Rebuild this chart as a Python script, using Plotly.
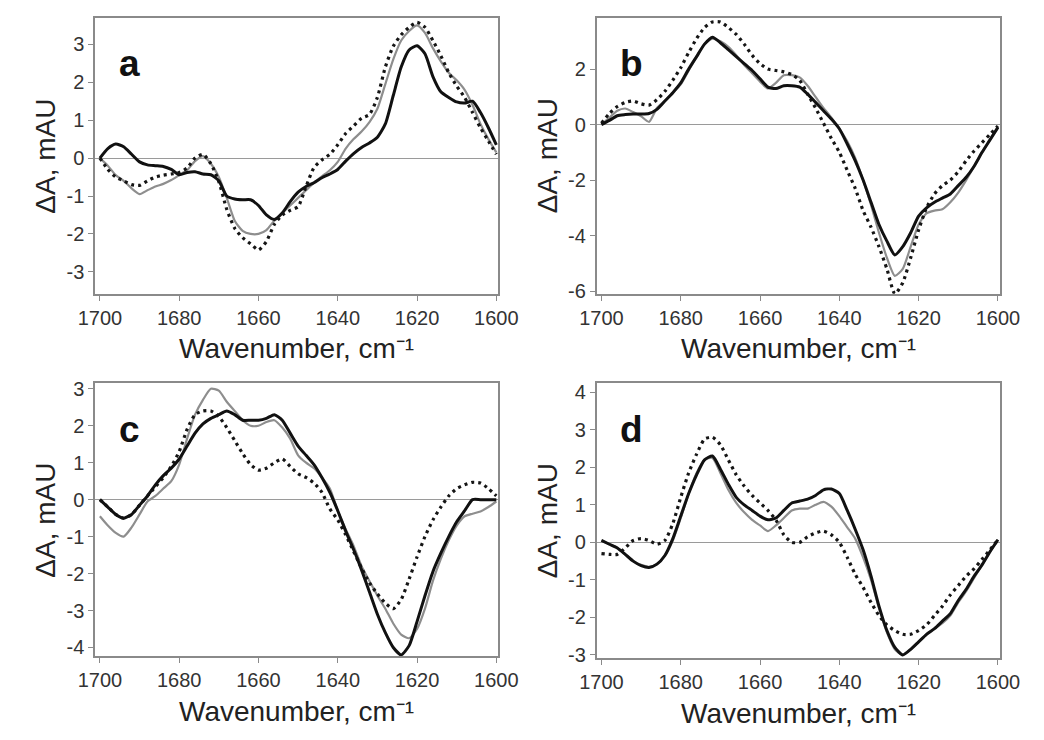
import plotly.graph_objects as go

# Wavenumber grid (cm^-1), shared by all series
WAVENUMBER = [1700, 1698, 1696, 1694, 1692, 1690, 1688, 1686, 1684, 1682,
              1680, 1678, 1676, 1674, 1672, 1670, 1668, 1666, 1664, 1662,
              1660, 1658, 1656, 1654, 1652, 1650, 1648, 1646, 1644, 1642,
              1640, 1638, 1636, 1634, 1632, 1630, 1628, 1626, 1624, 1622,
              1620, 1618, 1616, 1614, 1612, 1610, 1608, 1606, 1604, 1602, 1600]

# Panel a
A_BLACK = [0.0, 0.25, 0.37, 0.3, 0.1, -0.1, -0.18, -0.2, -0.22, -0.3,
           -0.44, -0.38, -0.36, -0.42, -0.44, -0.6, -1.0, -1.08, -1.1, -1.1,
           -1.25, -1.5, -1.62, -1.45, -1.15, -0.9, -0.75, -0.65, -0.52, -0.42,
           -0.3, -0.08, 0.12, 0.28, 0.4, 0.55, 0.9, 1.65, 2.4, 2.85,
           2.96, 2.75, 2.15, 1.75, 1.6, 1.48, 1.45, 1.5, 1.2, 0.8, 0.35]
A_GRAY = [0.0, -0.2, -0.45, -0.6, -0.8, -0.95, -0.85, -0.75, -0.68, -0.58,
          -0.45, -0.32, -0.08, 0.05, -0.15, -0.5, -1.05, -1.65, -1.92, -2.0,
          -2.0, -1.9, -1.65, -1.45, -1.25, -1.05, -0.85, -0.65, -0.48, -0.32,
          -0.1, 0.25, 0.5, 0.7, 0.95, 1.3, 1.95, 2.6, 3.1, 3.35,
          3.5, 3.3, 2.9, 2.55, 2.25, 2.05, 1.8, 1.4, 0.9, 0.5, 0.15]
A_DOT = [0.0, -0.3, -0.5, -0.6, -0.7, -0.72, -0.6, -0.5, -0.45, -0.42,
         -0.38, -0.26, 0.0, 0.1, -0.15, -0.62, -1.35, -1.85, -2.1, -2.26,
         -2.42, -2.2, -1.75, -1.5, -1.38, -1.28, -0.75, -0.25, -0.05, 0.1,
         0.35, 0.65, 0.85, 1.05, 1.15, 1.6, 2.4, 2.95, 3.25, 3.45,
         3.58, 3.45, 3.1, 2.7, 2.25, 1.9, 1.6, 1.2, 0.8, 0.45, 0.1]

# Panel b
B_BLACK = [0.0, 0.15, 0.32, 0.36, 0.38, 0.38, 0.4, 0.55, 0.85, 1.15,
           1.5, 2.0, 2.45, 2.9, 3.15, 2.95, 2.7, 2.45, 2.2, 1.95,
           1.65, 1.35, 1.3, 1.4, 1.4, 1.35, 1.1, 0.8, 0.5, 0.2,
           -0.15, -0.7, -1.3, -2.0, -2.8, -3.6, -4.2, -4.7, -4.4, -3.9,
           -3.3, -3.0, -2.8, -2.65, -2.5, -2.2, -1.9, -1.5, -1.0, -0.55, -0.1]
B_GRAY = [0.0, 0.25, 0.5, 0.58, 0.45, 0.3, 0.1, 0.6, 0.85, 1.15,
          1.45, 1.95, 2.45, 2.9, 3.1, 3.0, 2.8, 2.5, 2.15, 1.85,
          1.55, 1.3, 1.5, 1.78, 1.78, 1.7, 1.4, 1.0, 0.6, 0.25,
          -0.15, -0.6, -1.2, -2.0, -2.9, -3.9, -4.8, -5.45, -5.2, -4.4,
          -3.6, -3.2, -3.1, -3.05, -2.8, -2.45, -2.0, -1.5, -1.0, -0.55, -0.1]
B_DOT = [0.05, 0.4, 0.65, 0.8, 0.85, 0.75, 0.7, 0.9, 1.2, 1.6,
         2.05, 2.6, 3.1, 3.5, 3.7, 3.7, 3.5, 3.25, 2.9, 2.5,
         2.2, 2.0, 1.95, 1.9, 1.8, 1.6, 1.1, 0.6, 0.05, -0.5,
         -1.0, -1.65, -2.3, -3.1, -3.7, -4.4, -5.2, -6.1, -5.7, -4.8,
         -3.8, -3.0, -2.5, -2.2, -2.0, -1.7, -1.3, -0.95, -0.65, -0.35, -0.05]

# Panel c
C_BLACK = [0.0, -0.2, -0.4, -0.5, -0.4, -0.15, 0.1, 0.4, 0.65, 0.85,
           1.1, 1.45, 1.8, 2.05, 2.2, 2.3, 2.4, 2.3, 2.15, 2.15,
           2.15, 2.2, 2.3, 2.15, 1.8, 1.45, 1.2, 0.95, 0.6, 0.2,
           -0.3, -0.85, -1.35, -1.9, -2.5, -3.1, -3.6, -4.0, -4.2, -3.95,
           -3.3, -2.6, -1.95, -1.45, -1.0, -0.6, -0.3, 0.0, 0.0, 0.0, 0.0]
C_GRAY = [-0.45, -0.7, -0.9, -1.0, -0.75, -0.4, -0.05, 0.1, 0.3, 0.5,
          0.95, 1.65, 2.3, 2.7, 3.0, 2.95, 2.65, 2.4, 2.15, 2.0,
          2.0, 2.1, 2.15, 1.95, 1.65, 1.2, 1.0, 0.85, 0.6, 0.3,
          -0.3, -0.8, -1.25, -1.8, -2.2, -2.6, -2.95, -3.35, -3.65, -3.75,
          -3.5, -2.95, -2.2, -1.6, -1.1, -0.7, -0.45, -0.38, -0.32, -0.2, -0.05]
C_DOT = [0.0, -0.2, -0.4, -0.5, -0.4, -0.15, 0.1, 0.35, 0.6, 0.9,
         1.3, 1.9, 2.3, 2.4, 2.4, 2.25, 1.95, 1.6, 1.25, 0.95,
         0.8, 0.85, 1.0, 1.1, 0.9, 0.7, 0.6, 0.45, 0.2, -0.25,
         -0.55, -0.95, -1.4, -1.85, -2.25, -2.55, -2.8, -2.95, -2.7, -2.15,
         -1.55, -1.0, -0.55, -0.2, 0.1, 0.3, 0.4, 0.47, 0.45, 0.3, 0.1]

# Panel d
D_BLACK = [0.05, -0.05, -0.15, -0.32, -0.5, -0.62, -0.67, -0.58, -0.35, 0.1,
           0.7, 1.3, 1.8, 2.2, 2.3, 1.95, 1.55, 1.2, 1.0, 0.85,
           0.7, 0.6, 0.65, 0.85, 1.05, 1.1, 1.15, 1.25, 1.4, 1.42,
           1.3, 0.85, 0.35, -0.2, -0.9, -1.7, -2.35, -2.8, -3.0, -2.85,
           -2.65, -2.45, -2.3, -2.1, -1.9, -1.55, -1.25, -0.9, -0.6, -0.25, 0.07]
D_GRAY = [0.05, -0.05, -0.15, -0.32, -0.5, -0.6, -0.65, -0.58, -0.35, 0.05,
          0.65, 1.3, 1.85, 2.2, 2.25, 1.85, 1.4, 1.05, 0.8, 0.6,
          0.45, 0.3, 0.45, 0.65, 0.85, 0.9, 0.9, 1.0, 1.08, 0.95,
          0.7, 0.4, 0.1, -0.4, -1.0, -1.75, -2.4, -2.85, -3.0, -2.85,
          -2.65, -2.45, -2.3, -2.15, -1.95, -1.6, -1.3, -0.95, -0.6, -0.25, 0.07]
D_DOT = [-0.3, -0.32, -0.32, -0.15, 0.05, 0.1, 0.05, -0.05, 0.05, 0.5,
         1.2, 1.85, 2.35, 2.75, 2.8, 2.6, 2.2, 1.8, 1.5, 1.25,
         1.05, 0.85, 0.6, 0.2, 0.0, 0.0, 0.15, 0.25, 0.3, 0.2,
         0.0, -0.4, -0.85, -1.2, -1.6, -1.95, -2.2, -2.35, -2.45, -2.45,
         -2.35, -2.2, -1.95, -1.7, -1.4, -1.15, -0.9, -0.7, -0.45, -0.2, 0.07]

PANEL_LETTERS = ["a", "b", "c", "d"]
X_TICKS = [1700, 1680, 1660, 1640, 1620, 1600]
Y_TICKS = {
    "a": [-3, -2, -1, 0, 1, 2, 3],
    "b": [-6, -4, -2, 0, 2],
    "c": [-4, -3, -2, -1, 0, 1, 2, 3],
    "d": [-3, -2, -1, 0, 1, 2, 3, 4],
}
Y_RANGES = {"a": [-3.58, 3.7], "b": [-6.1, 3.85], "c": [-4.24, 3.15], "d": [-3.09, 4.24]}
X_TITLE = "Wavenumber, cm⁻¹"
Y_TITLE = "ΔA, mAU"

SERIES = {
    "a": (A_BLACK, A_GRAY, A_DOT),
    "b": (B_BLACK, B_GRAY, B_DOT),
    "c": (C_BLACK, C_GRAY, C_DOT),
    "d": (D_BLACK, D_GRAY, D_DOT),
}

W, H = 1044, 740
FONT = "Liberation Sans, Arial, sans-serif"
FRAME = "#8a8a8a"

# pixel boxes of the plot areas (left, right, top, bottom)
BOXES = {
    "a": (81, 499, 13, 294),
    "b": (601, 1019, 13, 294),
    "c": (81, 499, 385, 663),
    "d": (601, 1019, 385, 665),
}

fig = go.Figure()
annotations = []

for i, key in enumerate(PANEL_LETTERS):
    n = "" if i == 0 else str(i + 1)
    xa, ya = "x" + n, "y" + n
    black, gray, dot = SERIES[key]
    fig.add_trace(go.Scatter(x=WAVENUMBER, y=gray, mode="lines", xaxis=xa, yaxis=ya,
                             line=dict(color="#8e8e8e", width=2.2, shape="spline", smoothing=0.6),
                             showlegend=False))
    fig.add_trace(go.Scatter(x=WAVENUMBER, y=dot, mode="lines", xaxis=xa, yaxis=ya,
                             line=dict(color="#151515", width=3.2, dash="3px,4px",
                                       shape="spline", smoothing=0.6),
                             showlegend=False))
    fig.add_trace(go.Scatter(x=WAVENUMBER, y=black, mode="lines", xaxis=xa, yaxis=ya,
                             line=dict(color="#111111", width=3, shape="spline", smoothing=0.6),
                             showlegend=False))

    l, r, t, b = BOXES[key]
    dom_x = [l / W, r / W]
    dom_y = [1 - b / H, 1 - t / H]
    common = dict(showline=True, mirror=True, linecolor=FRAME, linewidth=1.6,
                  showgrid=False, ticks="outside", ticklen=5, tickwidth=1.2,
                  tickcolor=FRAME, tickfont=dict(family=FONT, size=20, color="#333333"))
    fig.layout["xaxis" + n] = dict(domain=dom_x, anchor=ya, range=[1701.2, 1599.5],
                                   tickvals=X_TICKS, ticktext=[str(v) for v in X_TICKS],
                                   zeroline=False, **common)
    fig.layout["yaxis" + n] = dict(domain=dom_y, anchor=xa, range=Y_RANGES[key],
                                   tickvals=Y_TICKS[key],
                                   ticktext=[str(v) for v in Y_TICKS[key]],
                                   zeroline=True, zerolinecolor="#9a9a9a", zerolinewidth=1.3,
                                   **common)

    cx = (l + r) / 2
    # panel letter
    annotations.append(dict(text=key, x=(l + 36) / W, y=1 - (t + 47) / H,
                            xref="paper", yref="paper", xanchor="center", yanchor="middle",
                            showarrow=False,
                            font=dict(family=FONT, size=37, color="#111111", weight="bold")))
    # x title
    annotations.append(dict(text=X_TITLE, x=cx / W, y=1 - (b + 56) / H,
                            xref="paper", yref="paper", xanchor="center", yanchor="middle",
                            showarrow=False, font=dict(family=FONT, size=28, color="#222222")))
    # y title
    annotations.append(dict(text=Y_TITLE, x=(l - 51) / W, y=1 - ((t + b) / 2) / H,
                            xref="paper", yref="paper", xanchor="center", yanchor="middle",
                            textangle=-90, showarrow=False,
                            font=dict(family=FONT, size=28, color="#222222")))

fig.update_layout(width=W, height=H, margin=dict(l=0, r=0, t=0, b=0),
                  paper_bgcolor="white", plot_bgcolor="white",
                  annotations=annotations, showlegend=False)

fig.write_html("out.html", config={"displayModeBar": False},
               post_script="document.body.style.margin='0px';document.body.style.overflow='hidden';")
